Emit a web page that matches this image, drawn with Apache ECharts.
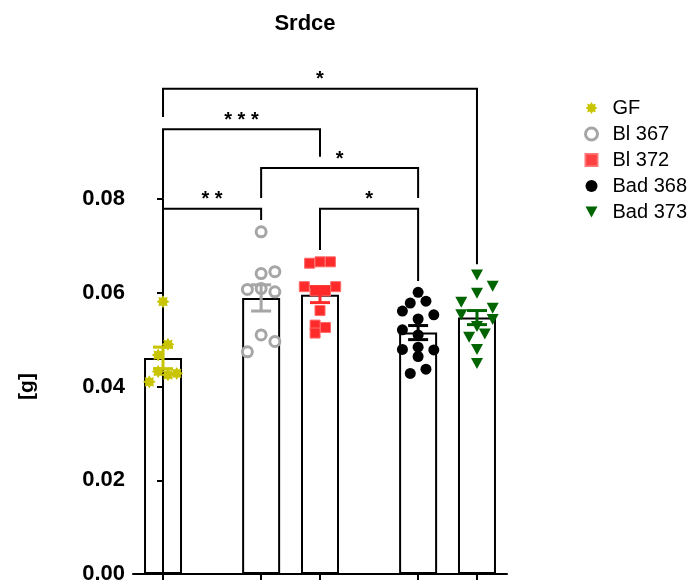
<!DOCTYPE html>
<html>
<head>
<meta charset="utf-8">
<script src="https://cdn.jsdelivr.net/npm/echarts@6/dist/echarts.min.js"></script>
<style>
  html, body { margin: 0; padding: 0; background: #fff; }
  #main { width: 691px; height: 585px; }
</style>
</head>
<body>
<div id="main"></div>
<script>
var groupNames = ['GF', 'Bl 367', 'Bl 372', 'Bad 368', 'Bad 373'];
var groupX = [0, 5, 8, 13, 16];
var means = [0.0461, 0.0589, 0.0596, 0.0515, 0.0547];
var sems = [0.0023, 0.0028, 0.0017, 0.0015, 0.0015];

// individual points, jitter in x-axis units
var gfValues = [0.0581, 0.0490, 0.0467, 0.0432, 0.0425, 0.0428, 0.0410];
var gfJitter = [0, 0.25, -0.25, -0.25, 0.25, 0.7, -0.7];
var bl367Values = [0.0730, 0.0641, 0.0645, 0.0607, 0.0609, 0.0602, 0.0510, 0.0496, 0.0474];
var bl367Jitter = [0, 0, 0.7, -0.7, 0, 0.7, 0, 0.7, -0.7];
var bl372Values = [0.0663, 0.0666, 0.0666, 0.0613, 0.0604, 0.0604, 0.0613, 0.0562, 0.0531, 0.0526, 0.0514];
var bl372Jitter = [-0.53, 0, 0.53, -0.8, -0.25, 0.28, 0.8, 0, -0.25, 0.28, -0.25];
var bad368Values = [0.0601, 0.0578, 0.0582, 0.0561, 0.0553, 0.0544, 0.0521, 0.0510, 0.0479, 0.0484, 0.0478, 0.0464, 0.0428, 0.0437];
var bad368Jitter = [0, -0.4, 0.4, -0.8, 0.8, 0, -0.8, 0, -0.8, 0, 0.8, 0, -0.4, 0.4];
var bad373Values = [0.0638, 0.0614, 0.0599, 0.0580, 0.0567, 0.0553, 0.0543, 0.0528, 0.0512, 0.0505, 0.0479, 0.0449];
var bad373Jitter = [0, 0.8, 0, -0.8, 0.8, -0.8, 0.8, 0, 0.4, -0.4, 0, 0];

// [from group, to group, bar level, left leg end, right leg end, label]
var brackets = [
    [0, 4, 0.1035, 0.0975, 0.0661, '*'],
    [0, 2, 0.0949, 0.0802, 0.0890, '* * *'],
    [1, 3, 0.0866, 0.0802, 0.0802, '*'],
    [0, 1, 0.0779, 0.0606, 0.0755, '* *'],
    [2, 3, 0.0779, 0.0691, 0.0625, '*']
];

var colors = ['#c8c400', '#a6a6a6', '#ff2b2b', '#000000', '#006400'];
var font = 'Arial, "Liberation Sans", Helvetica, sans-serif';

// fat 8 point asterisk for GF
function starPath() {
    var d = '';
    for (var k = 0; k < 16; k++) {
        var a = k * Math.PI / 8 - Math.PI / 2;
        var r = k % 2 === 0 ? 10 : 6.5;
        var px = (10 + r * Math.cos(a)).toFixed(2);
        var py = (10 + r * Math.sin(a)).toFixed(2);
        d += (k === 0 ? 'M' : 'L') + px + ' ' + py + ' ';
    }
    return 'path://' + d + 'Z';
}
var star = starPath();
var downTri = 'path://M0 0 L10 0 L5 9 Z';

function pts(gi, vals, jit) {
    return vals.map(function (v, i) { return [groupX[gi] + jit[i], v]; });
}

var myChart = echarts.init(document.getElementById('main'));

var option = {
    animation: false,
    backgroundColor: '#fff',
    title: {
        text: 'Srdce',
        left: 300,
        top: 8,
        textAlign: 'center',
        textStyle: { color: '#000', fontSize: 22, fontWeight: 'bold', fontFamily: font }
    },
    legend: {
        orient: 'vertical',
        left: 584,
        top: 98,
        padding: 0,
        itemWidth: 12,
        itemHeight: 12,
        itemGap: 6,
        textStyle: { color: '#000', fontSize: 20, fontFamily: font, padding: [0, 0, 0, 10] },
        data: [
            { name: 'GF', icon: star, itemStyle: { color: colors[0] } },
            { name: 'Bl 367', icon: 'circle', itemStyle: { color: '#fff', borderColor: colors[1], borderWidth: 3 } },
            { name: 'Bl 372', icon: 'rect', itemStyle: { color: colors[2], opacity: 0.9 } },
            { name: 'Bad 368', icon: 'circle', itemStyle: { color: colors[3] } },
            { name: 'Bad 373', icon: downTri, itemStyle: { color: colors[4] } }
        ]
    },
    grid: { left: 133, right: 184, top: 199, bottom: 11 },
    xAxis: {
        type: 'value',
        min: -1.53,
        max: 17.53,
        splitLine: { show: false },
        axisLine: { show: true, lineStyle: { color: '#000', width: 2 } },
        axisTick: { show: true, length: 6, lineStyle: { color: '#000', width: 2 }, customValues: groupX },
        axisLabel: { show: false }
    },
    yAxis: {
        type: 'value',
        min: 0,
        max: 0.08,
        interval: 0.02,
        name: '[g]',
        nameLocation: 'middle',
        nameGap: 95,
        nameTextStyle: { color: '#000', fontSize: 21, fontWeight: 'bold', fontFamily: font },
        splitLine: { show: false },
        axisLine: { show: true, lineStyle: { color: '#000', width: 2 } },
        axisTick: { show: true, length: 6, lineStyle: { color: '#000', width: 2 } },
        axisLabel: {
            color: '#000', fontSize: 22, fontWeight: 'bold', fontFamily: font, margin: 8,
            formatter: function (v) { return v.toFixed(2); }
        }
    },
    series: [
        {
            type: 'bar',
            barWidth: 38,
            z: 1,
            itemStyle: { color: 'rgba(255,255,255,0)', borderColor: '#000', borderWidth: 2 },
            data: groupX.map(function (x, i) { return [x, means[i]]; })
        },
        {
            name: 'GF', type: 'scatter', symbol: star, symbolSize: 13, z: 3,
            itemStyle: { color: colors[0], opacity: 1 },
            data: pts(0, gfValues, gfJitter)
        },
        {
            name: 'Bl 367', type: 'scatter', symbol: 'circle', symbolSize: 10, z: 3,
            itemStyle: { color: '#fff', borderColor: colors[1], borderWidth: 3, opacity: 1 },
            data: pts(1, bl367Values, bl367Jitter)
        },
        {
            name: 'Bl 372', type: 'scatter', symbol: 'rect', symbolSize: 10, z: 3,
            itemStyle: { color: colors[2], borderColor: '#ff6a6a', borderWidth: 1, opacity: 1 },
            data: pts(2, bl372Values, bl372Jitter)
        },
        {
            name: 'Bad 368', type: 'scatter', symbol: 'circle', symbolSize: 11, z: 3,
            itemStyle: { color: colors[3], opacity: 1 },
            data: pts(3, bad368Values, bad368Jitter)
        },
        {
            name: 'Bad 373', type: 'scatter', symbol: downTri, symbolSize: [12, 11], z: 3,
            itemStyle: { color: colors[4], opacity: 1 },
            data: pts(4, bad373Values, bad373Jitter)
        },
        {
            // mean +/- SEM
            type: 'custom',
            z: 4,
            data: groupX.map(function (x, i) { return [x, means[i], sems[i], i]; }),
            renderItem: function (params, api) {
                var x = api.value(0), m = api.value(1), s = api.value(2);
                var c = colors[api.value(3)];
                var top = api.coord([x, m + s]);
                var bot = api.coord([x, m - s]);
                var w = 10;
                var st = { stroke: c, lineWidth: 3 };
                return {
                    type: 'group',
                    children: [
                        { type: 'line', shape: { x1: top[0], y1: top[1], x2: bot[0], y2: bot[1] }, style: st },
                        { type: 'line', shape: { x1: top[0] - w, y1: top[1], x2: top[0] + w, y2: top[1] }, style: st },
                        { type: 'line', shape: { x1: bot[0] - w, y1: bot[1], x2: bot[0] + w, y2: bot[1] }, style: st }
                    ]
                };
            }
        },
        {
            // significance brackets
            type: 'custom',
            clip: false,
            z: 5,
            data: brackets.map(function (b) { return [groupX[b[0]], groupX[b[1]], b[2], b[3], b[4]]; }),
            renderItem: function (params, api) {
                var x1 = api.value(0), x2 = api.value(1), yb = api.value(2);
                var p1 = api.coord([x1, api.value(3)]);
                var p2 = api.coord([x1, yb]);
                var p3 = api.coord([x2, yb]);
                var p4 = api.coord([x2, api.value(4)]);
                var label = brackets[params.dataIndex][5];
                return {
                    type: 'group',
                    children: [
                        { type: 'polyline', shape: { points: [p1, p2, p3, p4] }, style: { stroke: '#000', lineWidth: 2, fill: null } },
                        {
                            type: 'text',
                            style: {
                                text: label, x: (p2[0] + p3[0]) / 2, y: p2[1] - 9,
                                textAlign: 'center', textVerticalAlign: 'middle',
                                fill: '#000', fontSize: 20, fontWeight: 'bold', fontFamily: font
                            }
                        }
                    ]
                };
            }
        }
    ]
};

myChart.setOption(option);
</script>
</body>
</html>
